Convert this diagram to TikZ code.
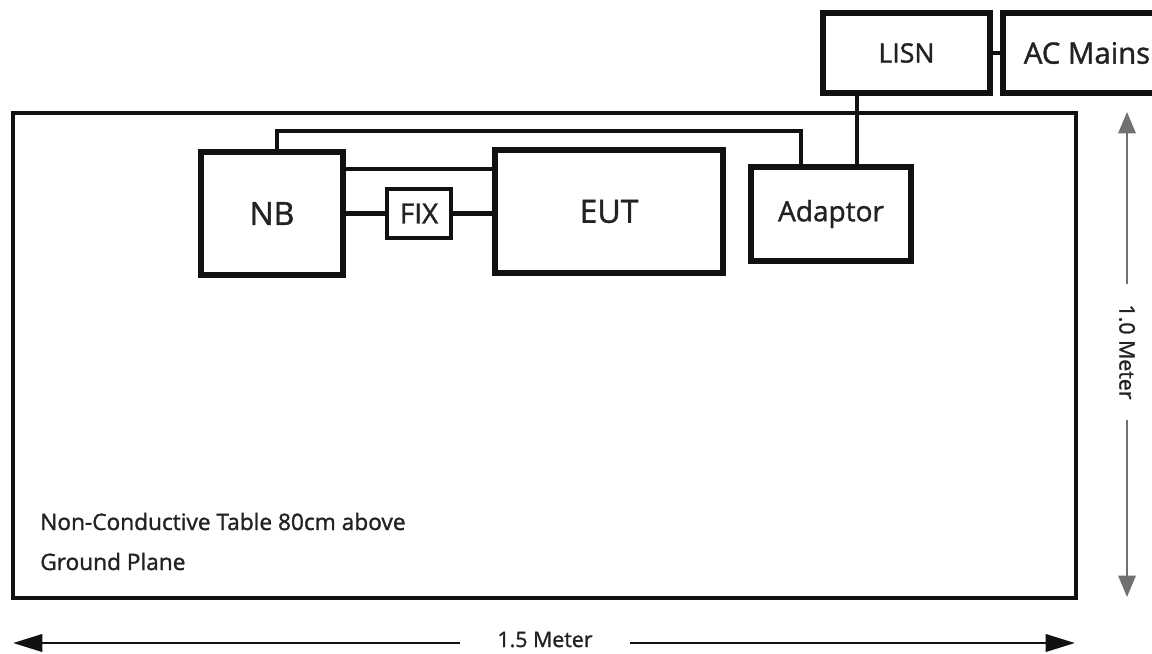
\documentclass[tikz,border=0pt]{standalone}
\usepackage{fontspec}
\setmainfont[FakeBold=1.3]{Open Sans}
\usetikzlibrary{arrows.meta, positioning, calc}
\definecolor{tblack}{HTML}{111111}
\definecolor{tgray}{HTML}{222222}
\definecolor{dimgray}{HTML}{707070}
\tikzset{
  unitbox/.style={draw=tblack, line width=3.8pt, fill=white, inner sep=0pt, text=tgray},
  cable/.style={draw=tblack, line width=3.2pt},
  dimarr/.style={-{Triangle[length=22pt,width=13pt]}, line width=2.2pt, tblack},
  vdimarr/.style={-{Triangle[length=16pt,width=13pt]}, line width=1.5pt, dimgray},
}

\begin{document}
\begin{tikzpicture}[x=0.75pt, y=-0.75pt,
    tablebox/.style={draw=tblack, line width=3.4pt, inner sep=0pt},
    dimlbl/.style={font=\fontsize{16}{18}\selectfont, text=tgray, inner ysep=0pt}
  ]
  \useasboundingbox (0,0) rectangle (1152,653);

  % Table
  \node[tablebox, minimum width=797.25pt, minimum height=363.75pt] (table) at (544.5,355.5) {};
  \node[anchor=base west, align=left, font=\fontsize{17}{30}\selectfont, text=tgray, inner sep=0pt] (tablenote) at (40,570) {Non-Conductive Table 80cm above\\Ground Plane};

  % Power side
  \node[unitbox, minimum width=125.25pt, minimum height=60pt, font=\fontsize{20}{22}\selectfont] (lisn) at (906.5,53) {LISN};
  \node[unitbox, minimum width=126pt, minimum height=60pt, font=\fontsize{22}{26}\selectfont] (mains) at (1087,53) {AC Mains};
  \node[unitbox, minimum width=120pt, minimum height=70.5pt, font=\fontsize{21}{24}\selectfont] (adaptor) at (831,214) {Adaptor};

  % Test setup
  \node[unitbox, minimum width=106.5pt, minimum height=92.25pt, font=\fontsize{24}{28}\selectfont] (nb) at (272,213.5) {NB};
  \node[unitbox, minimum width=48pt, minimum height=36.75pt, line width=3.4pt, font=\fontsize{21}{24}\selectfont] (fix) at (419,213.5) {FIX};
  \node[unitbox, minimum width=171pt, minimum height=92.25pt, font=\fontsize{24}{28}\selectfont] (eut) at (609,211.5) {EUT};

  % Cables
  \coordinate (hiwire) at (0,169);
  \coordinate (topwire) at (0,131);
  \coordinate (nbport) at ([xshift=3.75pt]nb.north);
  \coordinate (adport) at ([xshift=-22.5pt]adaptor.north);
  \coordinate (lisnport) at ([xshift=19.5pt]adaptor.north);
  \draw[cable] (nb.east |- hiwire) -- (eut.west |- hiwire);
  \draw[cable] (nb) -- (fix);
  \draw[cable] (fix.east) -- (fix.east -| eut.west);
  \draw[cable] (nbport) -- (nbport |- topwire) -| (adport);
  \draw[cable] (lisnport) -- (lisnport |- lisn.south);
  \draw[cable] (lisn.east) -- (mains.west);

  % Dimensions
  \node[dimlbl, anchor=base, minimum width=127.5pt] (widthlbl) at (545,647) {1.5 Meter};
  \coordinate (widthL) at (13,643);
  \coordinate (widthR) at (1075,643);
  \draw[dimarr] (widthlbl.west |- widthL) -- (widthL);
  \draw[dimarr] (widthlbl.east |- widthR) -- (widthR);

  \node[dimlbl, rotate=-90, minimum width=101pt] (heightlbl) at (1127,352) {1.0 Meter};
  \coordinate (heightT) at (1127,112);
  \coordinate (heightB) at (1127,597);
  \draw[vdimarr] (heightlbl.west) -- (heightT);
  \draw[vdimarr] (heightlbl.east) -- (heightB);
\end{tikzpicture}
\end{document}
